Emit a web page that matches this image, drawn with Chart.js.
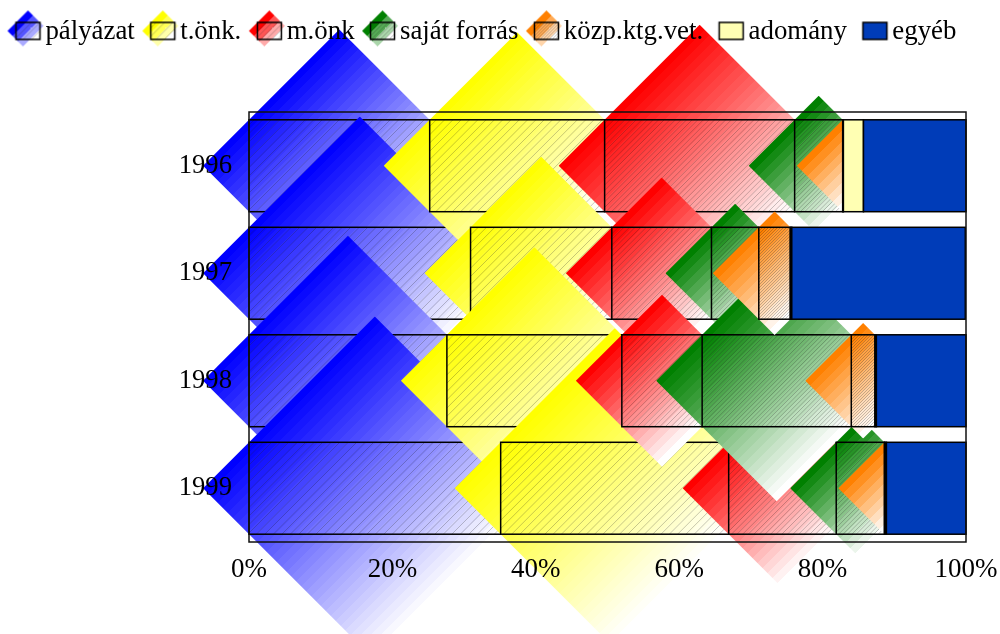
<!DOCTYPE html>
<html>
<head>
<meta charset="utf-8">
<script src="https://cdn.jsdelivr.net/npm/chart.js@4"></script>
<style>html,body{margin:0;padding:0;background:#fff}canvas{display:block}</style>
</head>
<body>
<canvas id="c" width="1000" height="634"></canvas>
<script>
const categories = ['1996', '1997', '1998', '1999'];
const seriesNames = ['pályázat', 't.önk.', 'm.önk', 'saját forrás', 'közp.ktg.vet.', 'adomány', 'egyéb'];
const palyazat = [25.2, 30.9, 27.6, 35.1];
const tonk = [24.4, 19.7, 24.4, 31.8];
const monk = [26.5, 13.9, 11.2, 15.0];
const sajat = [6.7, 6.6, 20.8, 6.7];
const kozp = [0.1, 4.4, 3.3, 0.1];
const adomany = [2.8, 0.2, 0.2, 0.2];
const egyeb = [14.3, 24.2, 12.5, 11.1];
const seriesValues = [palyazat, tonk, monk, sajat, kozp, adomany, egyeb];
const colors = ['#0000ff', '#ffff00', '#ff0000', '#008000', '#ff8000', '#ffffb3', '#003cb8'];
const gradientRgb = [[0,0,255],[255,255,0],[255,0,0],[0,128,0],[255,128,0],null,null];
const hatchGaps = [8.5, 8.3, 5.6, 4.4, 3, 0, 0];
const FONT = '"Liberation Serif", serif';

function paintMark(ctx, i, x0, y0, w, h) {
  const rgb = gradientRgb[i];
  if (rgb) {
    const cx = x0 + w / 2, cy = y0 + h / 2, r = (w + h) / 2;
    ctx.save();
    ctx.beginPath();
    ctx.moveTo(cx - r, cy); ctx.lineTo(cx, cy - r); ctx.lineTo(cx + r, cy); ctx.lineTo(cx, cy + r);
    ctx.closePath();
    ctx.clip();
    const ax = cx - r / 2, ay = cy - r / 2, bx = cx + r / 2, by = cy + r / 2;
    const g = ctx.createLinearGradient(ax, ay, bx, by);
    const len = Math.hypot(bx - ax, by - ay);
    const n = Math.max(4, Math.round(len / 7));
    for (let k = 0; k < n; k++) {
      const t = k / (n - 1);
      const col = 'rgb(' + rgb.map(c => Math.round(c + (255 - c) * t)).join(',') + ')';
      g.addColorStop(k / n, col);
      g.addColorStop((k + 1) / n, col);
    }
    ctx.fillStyle = g;
    ctx.fillRect(cx - r, cy - r, 2 * r, 2 * r);
    ctx.restore();
  } else {
    ctx.fillStyle = colors[i];
    ctx.fillRect(x0, y0, w, h);
  }
  const gap = hatchGaps[i];
  if (gap > 0 && w > 0) {
    ctx.save();
    ctx.beginPath();
    ctx.rect(x0, y0, w, h);
    ctx.clip();
    ctx.strokeStyle = 'rgba(40,40,40,0.33)';
    ctx.lineWidth = 0.8;
    ctx.beginPath();
    for (let s = Math.floor((x0 + y0) / gap) * gap; s < x0 + y0 + w + h + gap; s += gap) {
      ctx.moveTo(s - y0 + 2, y0 - 2);
      ctx.lineTo(s - y0 - h - 2, y0 + h + 2);
    }
    ctx.stroke();
    ctx.restore();
  }
  ctx.strokeStyle = '#000';
  ctx.lineWidth = 1.5;
  ctx.strokeRect(x0, y0, w, h);
}

const legendOffsetX = 4.5;
const swatches = seriesNames.map((_, i) => {
  const cv = document.createElement('canvas');
  cv.width = 80; cv.height = 60;
  const cx = cv.getContext('2d');
  paintMark(cx, i, 40 + legendOffsetX - 12, 28.5 - 8.5, 24, 17);
  return cv;
});

const diamondPlugin = {
  id: 'diamondBars',
  beforeInit(chart) {
    const lg = chart.legend, fit = lg.fit, draw = lg.draw;
    lg.fit = function () {
      this.maxWidth = 1000;
      fit.call(this);
      this.height = 108;
    };
    lg.draw = function () {
      this.right = 1000;
      draw.call(this);
    };
  },
  beforeDraw(chart) {
    const ctx = chart.ctx;
    ctx.save();
    ctx.fillStyle = '#fff';
    ctx.fillRect(0, 0, chart.width, chart.height);
    seriesNames.forEach((__, i) => {
      categories.forEach((_, j) => {
        const el = chart.getDatasetMeta(i).data[j];
        const x0 = Math.min(el.base, el.x), w = Math.abs(el.x - el.base);
        paintMark(ctx, i, x0, el.y - el.height / 2, w, el.height);
      });
    });
    ctx.restore();
  },
  beforeDatasetsDraw() { return false; },
  afterDraw(chart) {
    const a = chart.chartArea, ctx = chart.ctx;
    ctx.save();
    ctx.strokeStyle = '#111';
    ctx.lineWidth = 1.5;
    ctx.strokeRect(a.left, a.top, a.right - a.left, a.bottom - a.top);
    ctx.restore();
  }
};

new Chart(document.getElementById('c'), {
  type: 'bar',
  data: {
    labels: categories,
    datasets: seriesNames.map((name, i) => ({
      label: name,
      data: seriesValues[i],
      backgroundColor: colors[i],
      borderColor: '#000',
      borderWidth: 1.5,
      categoryPercentage: 1,
      barPercentage: 0.855
    }))
  },
  options: {
    indexAxis: 'y',
    responsive: false,
    animation: false,
    layout: { padding: { right: 34, left: 0, top: 4, bottom: 0 } },
    scales: {
      x: {
        stacked: true, min: 0, max: 100,
        grid: { display: false }, border: { display: false },
        ticks: { stepSize: 20, padding: 4, color: '#000', maxRotation: 0, font: { family: FONT, size: 27 }, callback: v => v + '%' },
        afterFit(s) { s.height = 92; s.paddingRight = 0; s.paddingLeft = 0; }
      },
      y: {
        stacked: true,
        grid: { display: false }, border: { display: false },
        ticks: { padding: 9, color: '#000', font: { family: FONT, size: 26.67 } },
        afterFit(s) { s.width = 249; s.paddingTop = 0; s.paddingBottom = 0; }
      }
    },
    plugins: {
      tooltip: { enabled: false },
      legend: {
        position: 'top',
        align: 'start',
        labels: {
          usePointStyle: true,
          boxWidth: 17,
          boxHeight: 17,
          padding: 15,
          color: '#000',
          font: { family: FONT, size: 26.84 },
          generateLabels: () => seriesNames.map((name, i) => ({
            text: name, pointStyle: swatches[i], datasetIndex: i,
            fillStyle: colors[i], strokeStyle: '#000', lineWidth: 0, fontColor: '#000'
          }))
        }
      }
    }
  },
  plugins: [diamondPlugin]
});
</script>
</body>
</html>
